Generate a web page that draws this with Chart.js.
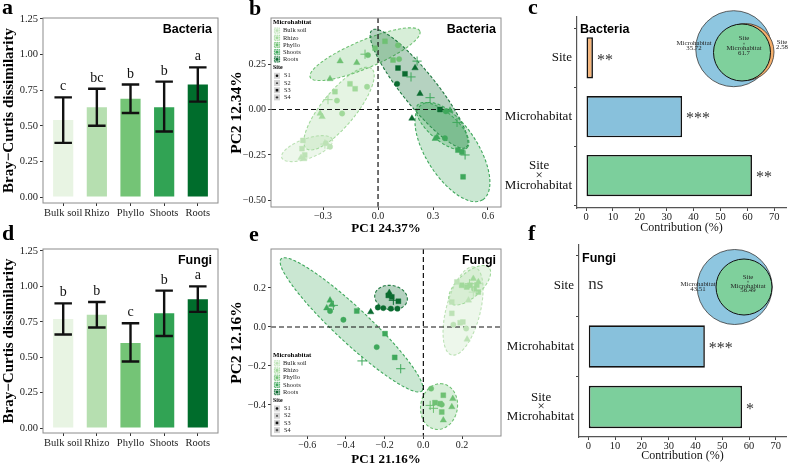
<!DOCTYPE html>
<html><head><meta charset="utf-8">
<script src="https://cdn.jsdelivr.net/npm/chart.js@4.4.1/dist/chart.umd.min.js"></script>
<style>
html,body{margin:0;padding:0;background:#fff;}
#wrap{position:relative;width:788px;height:464px;overflow:hidden;background:#fff;}
canvas{position:absolute;left:0;top:0;}
</style></head><body>
<div id="wrap">
<canvas id="ca" width="788" height="464"></canvas>
<canvas id="cd" width="788" height="464"></canvas>
<canvas id="cb" width="788" height="464"></canvas>
<canvas id="ce" width="788" height="464"></canvas>
<canvas id="cc" width="788" height="464"></canvas>
<canvas id="cf" width="788" height="464"></canvas>
</div>
<script>
// ---------------- DATA ----------------
const microhabitats = ['Bulk soil', 'Rhizo', 'Phyllo', 'Shoots', 'Roots'];
const sites = ['S1', 'S2', 'S3', 'S4'];
const dissimTicks = [0, 0.25, 0.5, 0.75, 1.0, 1.25];

const bacDissimMean = [0.54, 0.63, 0.69, 0.63, 0.79];
const bacDissimLow  = [0.38, 0.50, 0.59, 0.46, 0.67];
const bacDissimHigh = [0.70, 0.76, 0.79, 0.81, 0.91];
const bacLetters = ['c', 'bc', 'b', 'b', 'a'];

const funDissimMean = [0.77, 0.80, 0.60, 0.81, 0.91];
const funDissimLow  = [0.66, 0.71, 0.47, 0.65, 0.82];
const funDissimHigh = [0.88, 0.89, 0.74, 0.97, 1.00];
const funLetters = ['b', 'b', 'c', 'b', 'a'];

// PCA scores: [PC1, PC2, site index]
const bacBulk   = [[-0.41,-0.17,2],[-0.415,-0.215,2],[-0.40,-0.25,2],[-0.42,-0.265,1],[-0.405,-0.272,1],[-0.285,-0.185,0],[-0.262,-0.205,0],[-0.29,-0.19,3]];
const bacRhizo  = [[-0.235,0.098,2],[-0.273,0.054,3],[-0.224,0.049,0],[-0.316,-0.022,1],[-0.305,-0.040,1],[-0.196,-0.022,0],[-0.125,0.114,2],[-0.153,0.141,2],[-0.060,0.125,0]];
const bacPhyllo = [[-0.207,0.266,1],[-0.116,0.257,1],[-0.262,0.168,1],[-0.071,0.304,3],[-0.055,0.299,0],[-0.016,0.337,2],[0.038,0.375,2],[0.109,0.353,0],[0.082,0.272,2],[0.115,0.277,0]];
const bacShoots = [[0.322,-0.152,1],[0.312,-0.160,1],[0.365,-0.158,0],[0.436,-0.223,2],[0.458,-0.234,2],[0.464,-0.370,2],[0.475,-0.250,3],[0.431,-0.071,3],[0.393,-0.005,1],[0.370,-0.010,0],[0.284,0.065,3],[0.213,0.266,3],[0.180,0.179,3]];
const bacRoots  = [[0.109,0.228,2],[0.147,0.196,2],[0.104,0.141,0],[0.229,0.087,1],[0.185,-0.049,1],[0.202,0.228,1],[0.338,0.0,2]];
const bacPC1Ticks = [-0.3, 0, 0.3, 0.6];
const bacPC2Ticks = [-0.5, -0.25, 0, 0.25];
// confidence ellipses: [microhabitat index, centre PC1, centre PC2, semi-axis a, semi-axis b, angle deg]
const bacEllipses = [[0,-0.387,-0.215,0.147,0.054,20],[1,-0.213,0.005,0.283,0.093,51],[2,-0.071,0.304,0.325,0.076,23],[4,0.224,0.114,0.412,0.093,-51.4],[3,0.406,-0.234,0.31,0.142,-57.7],[3,0.352,-0.092,0.179,0.076,-41]];

const funBulk   = [[0.147,0.128,2],[0.147,0.070,2],[0.155,0.012,0],[0.190,0.022,2],[0.204,0.026,2],[0.221,-0.008,0],[0.226,-0.063,1],[0.233,0.137,1],[0.258,0.179,3],[0.173,0.231,2]];
const funRhizo  = [[0.258,0.248,1],[0.284,0.231,1],[0.241,0.214,2],[0.224,0.205,2],[0.198,0.214,2],[0.238,0.222,3],[0.284,0.179,2],[0.276,0.215,2],[0.262,0.195,0]];
const funPhyllo = [[0.040,-0.316,0],[0.035,-0.402,3],[0.052,-0.417,3],[0.060,-0.388,2],[0.086,-0.393,2],[0.103,-0.350,2],[0.095,-0.436,2],[0.095,-0.398,0],[0.152,-0.368,1],[0.103,-0.478,1],[0.147,-0.410,1]];
const funShoots = [[-0.482,0.137,1],[-0.473,0.114,1],[-0.499,0.097,1],[-0.465,0.111,3],[-0.482,0.082,0],[-0.344,0.082,2],[-0.413,0.037,0],[-0.198,-0.034,2],[-0.241,-0.103,0],[-0.317,-0.174,3],[-0.148,-0.156,2],[-0.117,-0.214,3]];
const funRoots  = [[-0.176,0.176,1],[-0.181,0.162,2],[-0.163,0.154,2],[-0.155,0.137,3],[-0.129,0.132,2],[-0.235,0.100,0],[-0.207,0.097,0],[-0.168,0.094,0],[-0.134,0.094,0],[-0.272,0.077,1]];
const funPC1Ticks = [-0.6, -0.4, -0.2, 0, 0.2];
const funPC2Ticks = [-0.4, -0.2, 0, 0.2];
const funEllipses = [[3,-0.371,0.011,0.497,0.088,-42.9],[4,-0.167,0.151,0.085,0.062,-10],[0,0.205,0.082,0.233,0.088,75.4],[1,0.239,0.214,0.135,0.062,42],[2,0.081,-0.408,0.118,0.095,80]];

const contribCategories = [['Site'], ['Microhabitat'], ['Site', '×', 'Microhabitat']];
const contribTicks = [0, 10, 20, 30, 40, 50, 60, 70];
const bacContrib = [2.58, 35.72, 61.7];
const bacSig = ['**', '***', '**'];
const bacVenn = [35.72, 61.7, 2.58];   // Microhabitat, Site×Microhabitat, Site
const funContrib = [0, 43.51, 57.4];
const funSig = ['ns', '***', '*'];
const funVenn = [43.51, 56.49];        // Microhabitat, Site×Microhabitat

// ---------------- STYLE ----------------
const SERIF = '"Liberation Serif", "Times New Roman", serif';
const SANS = '"Liberation Sans", Arial, sans-serif';
const barColors = ['#e8f4e3', '#b6dfb0', '#74c476', '#31a354', '#006d2c'];
const habitatColors = ['#bde2b6', '#a1d99b', '#6fc173', '#3fa85c', '#0b6b30'];
const contribColors = ['#F6B57A', '#88C1DC', '#7CCF9C'];
const siteStyles = ['circle', 'triangle', 'rect', 'cross'];
const siteRadius = [2.7, 3.7, 3.5, 4.6];
function rgba(hex, a) { const n = parseInt(hex.slice(1), 16); return `rgba(${n >> 16},${(n >> 8) & 255},${n & 255},${a})`; }
function fmtMinus(v, d) { const s = Math.abs(v).toFixed(d); return (v < -1e-9 ? '\u2212' : '') + s; }
function layoutFor(b, yw, xh) { return { padding: { left: b.L - yw, top: b.T, right: 788 - b.R, bottom: 464 - b.B - xh } }; }
// centre the lines of a multi-line tick label as a block (pads shorter lines with no-break spaces)
function centreLines(lines, fontPx) {
  if (lines.length < 2) return lines;
  const c = document.createElement('canvas').getContext('2d'); c.font = `${fontPx}px ${SERIF}`;
  const w = lines.map(t => c.measureText(t).width); const maxW = Math.max(...w); const sp = c.measureText('\u00A0').width;
  return lines.map((t, i) => t + '\u00A0'.repeat(Math.round((maxW - w[i]) / 2 / sp)));
}

// ---------------- PLUGINS ----------------
const boxPlugin = { id: 'box', afterDraw(chart) {
  const { ctx, chartArea: a } = chart; ctx.save(); ctx.strokeStyle = '#8c8c8c'; ctx.lineWidth = 1;
  ctx.strokeRect(a.left, a.top, a.right - a.left, a.bottom - a.top); ctx.restore(); } };

const textPlugin = { id: 'texts', afterDraw(chart, args, o) {
  const ctx = chart.ctx; ctx.save();
  (o.items || []).forEach(t => { ctx.font = t.font; ctx.fillStyle = t.color || '#000'; ctx.textAlign = t.align || 'left';
    ctx.textBaseline = t.baseline || 'alphabetic'; ctx.fillText(t.text, t.x, t.y); });
  ctx.restore(); } };

const errPlugin = { id: 'errbars', afterDatasetsDraw(chart, args, o) {
  const { ctx, scales: { x, y } } = chart; ctx.save();
  ctx.strokeStyle = '#111'; ctx.lineWidth = 2.4; ctx.fillStyle = '#111';
  const hw = x.getPixelForValue(1.26) - x.getPixelForValue(1);
  o.low.forEach((lo, i) => {
    const px = x.getPixelForValue(i + 1), y1 = y.getPixelForValue(lo), y2 = y.getPixelForValue(o.high[i]);
    ctx.beginPath(); ctx.moveTo(px, y1); ctx.lineTo(px, y2);
    ctx.moveTo(px - hw, y1); ctx.lineTo(px + hw, y1); ctx.moveTo(px - hw, y2); ctx.lineTo(px + hw, y2); ctx.stroke();
    ctx.font = `14px ${SERIF}`; ctx.textAlign = 'center'; ctx.textBaseline = 'alphabetic';
    ctx.fillText(o.letters[i], px, y2 - 7);
  });
  ctx.restore(); } };

const ellipsePlugin = { id: 'ellipses', beforeDatasetsDraw(chart, args, o) {
  const { ctx, chartArea: a, scales: { x, y } } = chart; ctx.save();
  ctx.beginPath(); ctx.rect(a.left, a.top, a.right - a.left, a.bottom - a.top); ctx.clip();
  o.list.forEach(e => {
    const [k, cx, cy, ea, eb, ang] = e; const th = ang * Math.PI / 180;
    ctx.beginPath();
    for (let i = 0; i <= 90; i++) { const t = i / 90 * 2 * Math.PI;
      const dx = ea * Math.cos(t) * Math.cos(th) - eb * Math.sin(t) * Math.sin(th);
      const dy = ea * Math.cos(t) * Math.sin(th) + eb * Math.sin(t) * Math.cos(th);
      const px = x.getPixelForValue(cx + dx), py = y.getPixelForValue(cy + dy);
      if (i === 0) ctx.moveTo(px, py); else ctx.lineTo(px, py); }
    ctx.closePath(); ctx.fillStyle = rgba(habitatColors[k], k === 4 ? 0.3 : 0.28); ctx.fill();
    ctx.setLineDash([3, 2]); ctx.strokeStyle = k === 4 ? '#1f7a40' : habitatColors[k]; ctx.lineWidth = 1.1; ctx.stroke(); ctx.setLineDash([]);
  });
  ctx.strokeStyle = '#111'; ctx.lineWidth = 1.2; ctx.setLineDash([5, 3]);
  const x0 = x.getPixelForValue(0), y0 = y.getPixelForValue(0);
  ctx.beginPath(); ctx.moveTo(x0, a.top); ctx.lineTo(x0, a.bottom); ctx.moveTo(a.left, y0); ctx.lineTo(a.right, y0); ctx.stroke();
  ctx.restore(); } };

function drawShape(ctx, style, cx, cy, r, fill) {
  ctx.beginPath();
  if (style === 'circle') { ctx.arc(cx, cy, r, 0, Math.PI * 2); ctx.fillStyle = fill; ctx.fill(); }
  else if (style === 'triangle') { ctx.moveTo(cx, cy - r); ctx.lineTo(cx + r * 0.9, cy + r * 0.6); ctx.lineTo(cx - r * 0.9, cy + r * 0.6); ctx.closePath(); ctx.fillStyle = fill; ctx.fill(); }
  else if (style === 'rect') { ctx.fillStyle = fill; ctx.fillRect(cx - r, cy - r, 2 * r, 2 * r); }
  else { ctx.moveTo(cx - r, cy); ctx.lineTo(cx + r, cy); ctx.moveTo(cx, cy - r); ctx.lineTo(cx, cy + r); ctx.strokeStyle = fill; ctx.lineWidth = 0.8; ctx.stroke(); }
}

const pcaLegendPlugin = { id: 'pcaLegend', afterDatasetsDraw(chart, args, o) {
  const ctx = chart.ctx; const kx = 274; const y0 = o.y0; ctx.save();
  ctx.textBaseline = 'middle'; ctx.textAlign = 'left'; ctx.fillStyle = '#000';
  ctx.font = `bold 6.8px ${SERIF}`; ctx.fillText('Microhabitat', 273, y0);
  microhabitats.forEach((m, k) => { const yy = y0 + 8.3 + 7.2 * k;
    ctx.fillStyle = rgba(habitatColors[k], 0.35); ctx.fillRect(kx, yy - 3, 6, 6);
    ctx.setLineDash([1.4, 0.9]); ctx.strokeStyle = habitatColors[k]; ctx.lineWidth = 0.8; ctx.strokeRect(kx + 0.4, yy - 2.6, 5.2, 5.2); ctx.setLineDash([]);
    drawShape(ctx, 'circle', kx + 3, yy, 1.4, habitatColors[k]);
    ctx.fillStyle = '#222'; ctx.font = `6.5px ${SERIF}`; ctx.fillText(m, 283, yy); });
  ctx.fillStyle = '#000'; ctx.font = `bold 6px ${SERIF}`; ctx.fillText('Site', 273, y0 + 45.5);
  sites.forEach((s, k) => { const yy = y0 + 53.5 + 7.2 * k;
    ctx.fillStyle = '#d6d6d6'; ctx.fillRect(kx, yy - 3, 6, 6);
    drawShape(ctx, siteStyles[k], kx + 3, yy, 1.3, '#111');
    ctx.fillStyle = '#222'; ctx.font = `6.3px ${SERIF}`; ctx.textBaseline = 'middle'; ctx.fillText(s, 284, yy); });
  ctx.restore(); } };

const sigPlugin = { id: 'sig', afterDatasetsDraw(chart, args, o) {
  const { ctx, scales: { x, y } } = chart; ctx.save(); ctx.fillStyle = '#333'; ctx.textAlign = 'left'; ctx.textBaseline = 'middle';
  o.vals.forEach((v, i) => { const s = o.sig[i]; const px = x.getPixelForValue(v) + (v > 0 ? 4 : 0); const py = y.getPixelForValue(i + 1);
    if (s === 'ns') { ctx.font = `17px ${SERIF}`; ctx.fillText(s, px, py - 1); }
    else { ctx.font = `16px ${SERIF}`; ctx.fillText(s, px, py + 2.5); } });
  ctx.restore(); } };

const vennPlugin = { id: 'venn', afterDraw(chart, args, o) {
  const ctx = chart.ctx; ctx.save();
  o.circles.forEach(c => { ctx.beginPath(); ctx.arc(c.x, c.y, c.r, 0, Math.PI * 2); ctx.fillStyle = c.fill; ctx.fill();
    ctx.strokeStyle = c.stroke; ctx.lineWidth = c.lw; ctx.stroke(); });
  ctx.fillStyle = '#222'; ctx.textAlign = 'center'; ctx.textBaseline = 'middle';
  o.labels.forEach(l => { l.lines.forEach((t, j) => { ctx.font = (t === '×' ? '5px ' : '6.8px ') + SERIF; ctx.fillText(t, l.x, l.y + j * l.dy); }); });
  ctx.restore(); } };

// ---------------- CHART BUILDERS ----------------
function dissimChart(id, box, xh, mean, low, high, letters, taxon, letter, letterY) {
  new Chart(document.getElementById(id), {
    type: 'bar',
    data: { datasets: [{ data: mean.map((v, i) => ({ x: i + 1, y: v })), backgroundColor: barColors, borderWidth: 0, barPercentage: 0.6, categoryPercentage: 1 }] },
    options: {
      responsive: false, animation: false, layout: layoutFor(box, box.L, xh),
      plugins: { legend: { display: false }, tooltip: { enabled: false },
        errbars: { low, high, letters },
        texts: { items: [
          { text: taxon, x: box.R - 6, y: box.T + 14.5, font: `bold 12.5px ${SANS}`, align: 'right' },
          { text: letter, x: 2, y: letterY, font: `bold 22px ${SERIF}` }] } },
      scales: {
        x: { type: 'linear', min: 0.4, max: 5.6, offset: false, afterFit(s) { s.height = xh; },
          afterBuildTicks(s) { s.ticks = microhabitats.map((m, i) => ({ value: i + 1 })); },
          ticks: { callback: v => microhabitats[v - 1], font: { family: SERIF, size: 10.5 }, color: '#222', padding: 0.7, maxRotation: 0, autoSkip: false },
          grid: { drawOnChartArea: false, offset: false, tickLength: 3, color: '#333' }, border: { display: false } },
        y: { type: 'linear', min: box.ymin, max: box.ymax, afterFit(s) { s.width = box.L; },
          afterBuildTicks(s) { s.ticks = dissimTicks.map(v => ({ value: v })); },
          ticks: { callback: v => v.toFixed(2), font: { family: SERIF, size: 10.5 }, color: '#222', padding: 2 },
          grid: { drawOnChartArea: false, tickLength: 3, color: '#333' }, border: { display: false },
          title: { display: true, text: 'Bray\u2212Curtis dissimilarity', font: { family: SERIF, size: 15, weight: 'bold' }, color: '#000', padding: { top: 0.4, bottom: 0 } } }
      }
    },
    plugins: [boxPlugin, errPlugin, textPlugin]
  });
}

function pcaChart(id, box, xh, groups, ellipses, xTicks, yTicks, xDec, yDec, xTitle, yTitle, taxon, legendY, letter, letterY, titleBottomPad) {
  new Chart(document.getElementById(id), {
    type: 'scatter',
    data: { datasets: groups.map((g, k) => ({ label: microhabitats[k], data: g.map(p => ({ x: p[0], y: p[1] })),
      pointStyle: g.map(p => siteStyles[p[2]]), pointRadius: g.map(p => siteRadius[p[2]]),
      backgroundColor: habitatColors[k], borderColor: habitatColors[k], borderWidth: g.map(p => p[2] === 3 ? 1 : 0.4) })) },
    options: {
      responsive: false, animation: false, layout: layoutFor(box, 43, xh),
      plugins: { legend: { display: false }, tooltip: { enabled: false },
        ellipses: { list: ellipses }, pcaLegend: { y0: legendY },
        texts: { items: [
          { text: taxon, x: box.R - 5, y: box.T + 14.5, font: `bold 12.5px ${SANS}`, align: 'right' },
          { text: letter, x: 249, y: letterY, font: `bold 22px ${SERIF}` }] } },
      scales: {
        x: { type: 'linear', min: box.xmin, max: box.xmax, afterFit(s) { s.height = xh; },
          afterBuildTicks(s) { s.ticks = xTicks.map(v => ({ value: v })); },
          ticks: { callback: v => fmtMinus(v, xDec), font: { family: SERIF, size: 10 }, color: '#222', padding: 0, maxRotation: 0, autoSkip: false },
          grid: { drawOnChartArea: false, tickLength: 3, color: '#333' }, border: { display: false },
          title: { display: true, text: xTitle, font: { family: SERIF, size: 13, weight: 'bold' }, color: '#000', padding: { top: 0, bottom: titleBottomPad } } },
        y: { type: 'linear', min: box.ymin, max: box.ymax, afterFit(s) { s.width = 43; },
          afterBuildTicks(s) { s.ticks = yTicks.map(v => ({ value: v })); },
          ticks: { callback: v => fmtMinus(v, yDec), font: { family: SERIF, size: 10 }, color: '#222', padding: 2, autoSkip: false },
          grid: { drawOnChartArea: false, tickLength: 3, color: '#333' }, border: { display: false },
          title: { display: true, text: yTitle, font: { family: SERIF, size: 15.5, weight: 'bold' }, color: '#000', padding: { top: 0, bottom: 0 } } }
      }
    },
    plugins: [boxPlugin, ellipsePlugin, pcaLegendPlugin, textPlugin]
  });
}

function contribChart(id, box, yw, xh, vals, sig, taxon, taxonY, venn, letter, letterY) {
  const catLabels = contribCategories.map(l => centreLines(l, 13));
  new Chart(document.getElementById(id), {
    type: 'bar',
    data: { datasets: [{ data: vals.map((v, i) => ({ x: v, y: i + 1 })), backgroundColor: contribColors, borderColor: '#111',
      borderWidth: vals.map(v => v > 0 ? 1.6 : 0), borderSkipped: false, barPercentage: 0.7, categoryPercentage: 1 }] },
    options: {
      indexAxis: 'y', responsive: false, animation: false, layout: layoutFor(box, yw, xh),
      plugins: { legend: { display: false }, tooltip: { enabled: false },
        sig: { vals, sig }, venn,
        texts: { items: [
          { text: taxon, x: box.L + 3, y: taxonY, font: `bold 12.5px ${SANS}` },
          { text: letter, x: 528, y: letterY, font: `bold 22px ${SERIF}` }] } },
      scales: {
        x: { type: 'linear', min: box.xmin, max: box.xmax, offset: false, afterFit(s) { s.height = xh; },
          afterBuildTicks(s) { s.ticks = contribTicks.map(v => ({ value: v })); },
          ticks: { font: { family: SERIF, size: 10.5 }, color: '#222', padding: 0, maxRotation: 0, autoSkip: false },
          grid: { drawOnChartArea: false, tickLength: 3, color: '#444' }, border: { display: true, color: '#555', width: 1.2 },
          title: { display: true, text: 'Contribution (%)', font: { family: SERIF, size: 12 }, color: '#111', padding: { top: 0, bottom: 0 } } },
        y: { type: 'linear', reverse: true, min: box.ymin, max: box.ymax, offset: false, afterFit(s) { s.width = yw; },
          afterBuildTicks(s) { s.ticks = [1, 2, 3].map(v => ({ value: v })); },
          ticks: { callback: v => catLabels[v - 1], font: { family: SERIF, size: 13, lineHeight: 0.75 }, color: '#111', padding: 2, autoSkip: false },
          grid: { drawOnChartArea: false, tickLength: 3, color: '#444' }, border: { display: true, color: '#555', width: 1.2 } }
      }
    },
    plugins: [sigPlugin, vennPlugin, textPlugin]
  });
}

// ---------------- BUILD ----------------
dissimChart('ca', { L: 43, T: 18, R: 218, B: 203, ymin: -0.042, ymax: 1.257 }, 29, bacDissimMean, bacDissimLow, bacDissimHigh, bacLetters, 'Bacteria', 'a', 14);
dissimChart('cd', { L: 43, T: 249, R: 218, B: 433, ymin: -0.035, ymax: 1.264 }, 31, funDissimMean, funDissimLow, funDissimHigh, funLetters, 'Fungi', 'd', 240);

pcaChart('cb', { L: 271, T: 18, R: 501, B: 207, xmin: -0.584, xmax: 0.671, ymin: -0.536, ymax: 0.503 }, 29,
  [bacBulk, bacRhizo, bacPhyllo, bacShoots, bacRoots], bacEllipses, bacPC1Ticks, bacPC2Ticks, 1, 2, 'PC1 24.37%', 'PC2 12.34%', 'Bacteria', 22.3, 'b', 15, 0);
pcaChart('ce', { L: 271, T: 249, R: 501, B: 436, xmin: -0.787, xmax: 0.401, ymin: -0.559, ymax: 0.40 }, 28,
  [funBulk, funRhizo, funPhyllo, funShoots, funRoots], funEllipses, funPC1Ticks, funPC2Ticks, 1, 1, 'PC1 21.16%', 'PC2 12.16%', 'Fungi', 355, 'e', 241, -3);

contribChart('cc', { L: 577, T: 15, R: 786, B: 208, xmin: -3.35, xmax: 74.35, ymin: 0.30, ymax: 3.55 }, 87, 27.2, bacContrib, bacSig, 'Bacteria', 32.5,
  { circles: [
      { x: 733.7, y: 48.7, r: 38, fill: '#8EC6E0', stroke: '#3a3a3a', lw: 0.8 },
      { x: 745.5, y: 52, r: 28.5, fill: '#F4AE6B', stroke: '#3a3a3a', lw: 0.8 },
      { x: 742, y: 52.5, r: 28.5, fill: '#7FD09C', stroke: '#111', lw: 1 }],
    labels: [
      { x: 694, y: 43.3, dy: 5.4, lines: ['Microhabitat', String(bacVenn[0])] },
      { x: 744, y: 38.5, dy: 4.8, lines: ['Site', '×', 'Microhabitat', String(bacVenn[1])] },
      { x: 782, y: 42.7, dy: 4.8, lines: ['Site', String(bacVenn[2])] }] },
  'c', 14);
contribChart('cf', { L: 579, T: 245, R: 786, B: 437, xmin: -3.47, xmax: 73.8, ymin: 0.322, ymax: 3.496 }, 89, 26.2, funContrib, funSig, 'Fungi', 261.5,
  { circles: [
      { x: 734.7, y: 287, r: 37.5, fill: '#8EC6E0', stroke: '#3a3a3a', lw: 0.8 },
      { x: 744, y: 287, r: 28, fill: '#7FD09C', stroke: '#111', lw: 1 }],
    labels: [
      { x: 698, y: 284.7, dy: 5, lines: ['Microhabitat', String(funVenn[0])] },
      { x: 748, y: 277.6, dy: 4.3, lines: ['Site', '×', 'Microhabitat', String(funVenn[1])] }] },
  'f', 240);
</script>
</body></html>
